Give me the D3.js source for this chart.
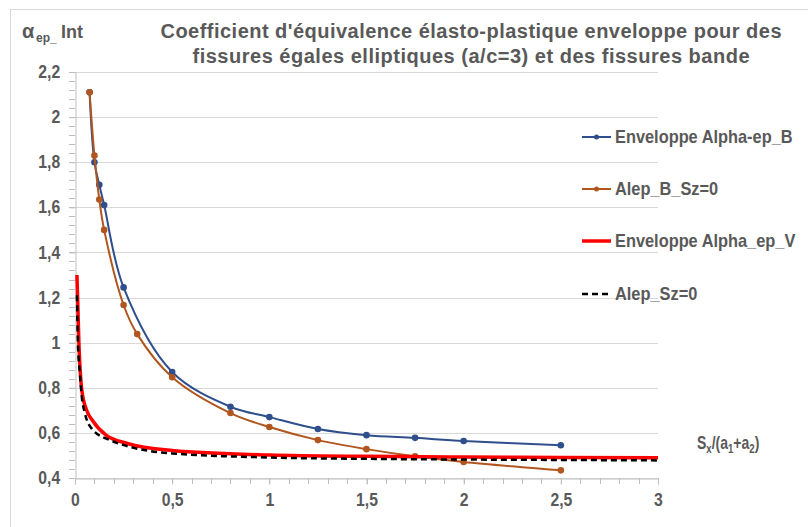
<!DOCTYPE html>
<html><head><meta charset="utf-8">
<script src="https://cdn.jsdelivr.net/npm/d3@7"></script>
<style>
body{margin:0;background:#fff;}
svg{display:block;}
</style></head>
<body><svg id="c" width="808" height="527"></svg>
<script>
// ---- data ----
const xB = [0.075, 0.1, 0.125, 0.15, 0.25, 0.5, 0.8, 1.0, 1.25, 1.5, 1.75, 2.0, 2.5];
const alphaEpB = [2.11, 1.80, 1.70, 1.61, 1.245, 0.87, 0.716, 0.67, 0.617, 0.59, 0.578, 0.564, 0.545];
const xAlepB = [0.075, 0.1, 0.125, 0.15, 0.25, 0.32, 0.5, 0.8, 1.0, 1.25, 1.5, 1.75, 2.0, 2.5];
const alepB = [2.11, 1.83, 1.635, 1.50, 1.167, 1.038, 0.847, 0.688, 0.626, 0.568, 0.528, 0.496, 0.471, 0.434];
const xV = [0.01, 0.02, 0.035, 0.06, 0.09, 0.16, 0.27, 0.5, 1, 1.5, 2, 2.5, 3];
const alphaEpV = [1.30, 1.00, 0.79, 0.70, 0.655, 0.59, 0.553, 0.522, 0.502, 0.496, 0.493, 0.491, 0.490];
const xSz = [0.01, 0.015, 0.025, 0.035, 0.05, 0.09, 0.18, 0.27, 0.5, 1, 1.5, 2, 2.5, 3];
const alepSz = [1.21, 1.00, 0.865, 0.76, 0.69, 0.615, 0.568, 0.541, 0.509, 0.491, 0.485, 0.482, 0.480, 0.478];
const xTicks = [0, 0.5, 1, 1.5, 2, 2.5, 3];
const yTicks = [0.4, 0.6, 0.8, 1, 1.2, 1.4, 1.6, 1.8, 2, 2.2];
const seriesNames = ["Enveloppe Alpha-ep_B", "Alep_B_Sz=0", "Enveloppe Alpha_ep_V", "Alep_Sz=0"];
const titleLines = ["Coefficient d'équivalence élasto-plastique enveloppe pour des", "fissures égales elliptiques (a/c=3) et des fissures bande"];

// ---- layout ----
const svg = d3.select("#c");
const L = 75, R = 658, T = 72, B = 478;
const x = d3.scaleLinear().domain([0, 3]).range([L, R]);
const y = d3.scaleLinear().domain([0.4, 2.2]).range([B, T]);
const grey = "#595959";
const sans = "'Liberation Sans',Arial,Helvetica,sans-serif";

// chart border
svg.append("rect").attr("x", 10.5).attr("y", 9.5).attr("width", 900).attr("height", 700)
  .attr("fill", "none").attr("stroke", "#d9d9d9");

// gridlines
svg.append("g").selectAll("line").data(yTicks).join("line")
  .attr("x1", L).attr("x2", R).attr("y1", d => Math.round(y(d)) + 0.5).attr("y2", d => Math.round(y(d)) + 0.5)
  .attr("stroke", "#d9d9d9").attr("stroke-width", 1);

// minor ticks
const yMinor = d3.range(0.4, 2.2001, 0.04);
svg.append("g").selectAll("line").data(yMinor).join("line")
  .attr("x1", L - 6).attr("x2", L).attr("y1", d => Math.round(y(d)) + 0.5).attr("y2", d => Math.round(y(d)) + 0.5)
  .attr("stroke", "#bfbfbf");
const xMinor = d3.range(0, 3.0001, 0.1);
svg.append("g").selectAll("line").data(xMinor).join("line")
  .attr("y1", B).attr("y2", B + 6).attr("x1", d => Math.round(x(d)) + 0.5).attr("x2", d => Math.round(x(d)) + 0.5)
  .attr("stroke", "#bfbfbf");

// axes
const fmt = d => String(d).replace(".", ",");
const yAxis = svg.append("g").attr("transform", `translate(${L + 0.5},0)`)
  .call(d3.axisLeft(y).tickValues(yTicks).tickFormat(fmt).tickSize(6).tickPadding(11));
const xAxis = svg.append("g").attr("transform", `translate(0,${B + 0.5})`)
  .call(d3.axisBottom(x).tickValues(xTicks).tickFormat(fmt).tickSize(6).tickPadding(9));
[yAxis, xAxis].forEach(g => {
  g.select(".domain").attr("stroke", "#bfbfbf");
  g.selectAll(".tick line").attr("stroke", "#bfbfbf");
  g.selectAll("text").attr("fill", grey).attr("font-family", sans).attr("font-weight", "bold").attr("font-size", 17.5);
});
yAxis.selectAll("text").attr("transform", "scale(0.9,1)");
xAxis.selectAll("text").attr("transform", "scale(0.9,1)");

// lines
function series(xs, ys) { return xs.map((v, i) => [v, ys[i]]); }
const lineGen = d3.line().x(d => x(d[0])).y(d => y(d[1]));
const sB = series(xB, alphaEpB), sAB = series(xAlepB, alepB), sV = series(xV, alphaEpV), sSz = series(xSz, alepSz);
const blue = "#2F4F8C", brown = "#B0561E";

svg.append("path").datum(sB).attr("d", lineGen.curve(d3.curveCatmullRom.alpha(0.5))).attr("fill", "none").attr("stroke", blue).attr("stroke-width", 2);
svg.append("g").selectAll("circle").data(sB).join("circle").attr("cx", d => x(d[0])).attr("cy", d => y(d[1])).attr("r", 3.3).attr("fill", blue);
svg.append("path").datum(sAB).attr("d", lineGen.curve(d3.curveCatmullRom.alpha(0.5))).attr("fill", "none").attr("stroke", brown).attr("stroke-width", 2);
svg.append("g").selectAll("circle").data(sAB).join("circle").attr("cx", d => x(d[0])).attr("cy", d => y(d[1])).attr("r", 3.3).attr("fill", brown);
svg.append("path").datum(sV).attr("d", lineGen.curve(d3.curveMonotoneX)).attr("fill", "none").attr("stroke", "#FF0000").attr("stroke-width", 3.5);
svg.append("path").datum(sSz).attr("d", lineGen.curve(d3.curveMonotoneX)).attr("fill", "none").attr("stroke", "#000").attr("stroke-width", 2.5).attr("stroke-dasharray", "6,4");

// legend
const lg = [
  {name: seriesNames[0], color: blue, w: 2, dash: null, marker: true},
  {name: seriesNames[1], color: brown, w: 2, dash: null, marker: true},
  {name: seriesNames[2], color: "#FF0000", w: 3.5, dash: null, marker: false},
  {name: seriesNames[3], color: "#000", w: 2.5, dash: "6,4", marker: false}
];
const lgY = [137, 189, 241, 294];
const lgG = svg.append("g");
lg.forEach((e, i) => {
  const g = lgG.append("g").attr("transform", `translate(0,${lgY[i]})`);
  g.append("line").attr("x1", 582).attr("x2", 611).attr("stroke", e.color).attr("stroke-width", e.w).attr("stroke-dasharray", e.dash);
  if (e.marker) g.append("circle").attr("cx", 596.5).attr("r", 2.5).attr("fill", e.color);
  g.append("text").attr("x", 615).attr("dy", "0.36em").text(e.name)
    .attr("fill", grey).attr("font-family", sans).attr("font-weight", "bold").attr("font-size", 18)
    .attr("transform", "translate(615,0) scale(0.91,1) translate(-615,0)");
});

// title
const titleW = [621, 557];
svg.append("g").selectAll("text").data(titleLines).join("text")
  .attr("x", 471).attr("y", (d, i) => 38 + i * 25).attr("text-anchor", "middle")
  .attr("fill", grey).attr("font-family", sans).attr("font-weight", "bold").attr("font-size", 20)
  .attr("textLength", (d, i) => titleW[i]).attr("lengthAdjust", "spacing").text(d => d);

// y axis title
const yt = svg.append("text").attr("y", 38).attr("fill", grey).attr("font-family", sans).attr("font-weight", "bold").attr("font-size", 18);
yt.append("tspan").attr("x", 22).attr("font-size", 20).text("α");
yt.append("tspan").attr("x", 36).attr("dy", 4).attr("font-size", 12).text("ep_");
yt.append("tspan").attr("x", 61).attr("dy", -4).text("Int");

// x axis title
const xt = svg.append("text").attr("transform", "translate(697,449) scale(0.8,1)").attr("fill", grey).attr("font-family", sans).attr("font-weight", "bold").attr("font-size", 17.5);
xt.append("tspan").text("S");
xt.append("tspan").attr("dy", 4).attr("font-size", 12).text("x");
xt.append("tspan").attr("dy", -4).text("/(a");
xt.append("tspan").attr("dy", 4).attr("font-size", 12).text("1");
xt.append("tspan").attr("dy", -4).text("+a");
xt.append("tspan").attr("dy", 4).attr("font-size", 12).text("2");
xt.append("tspan").attr("dy", -4).text(")");
</script></body></html>
